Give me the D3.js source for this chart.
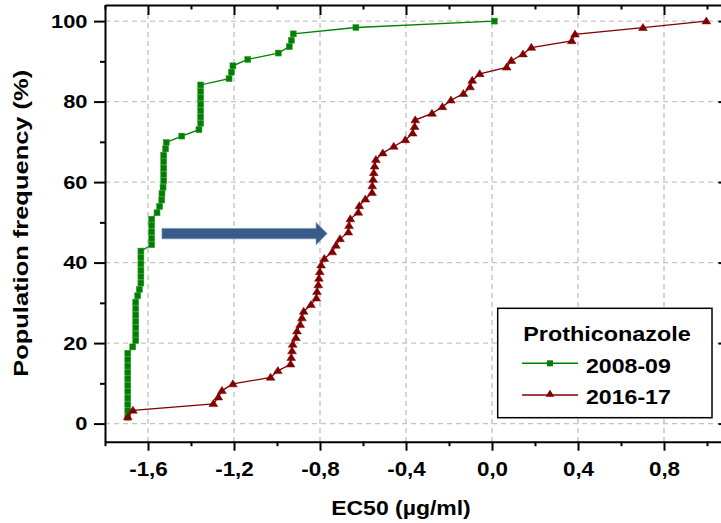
<!DOCTYPE html>
<html><head><meta charset="utf-8">
<script src="https://cdn.jsdelivr.net/npm/d3@7"></script>
<style>
body{margin:0;background:#fff}
svg{display:block}
text{font-family:"Liberation Sans",Arial,sans-serif;font-weight:bold;fill:#000}
</style>
</head><body><svg id="c" width="721" height="523"></svg>
<script>
// ---- data ----
const greenX = [-1.694,-1.694,-1.694,-1.694,-1.694,-1.694,-1.694,-1.694,-1.694,-1.694,-1.694,
  -1.671,-1.657,-1.657,-1.657,-1.657,-1.657,-1.657,-1.657,-1.648,-1.640,
  -1.633,-1.633,-1.633,-1.633,-1.633,-1.633,
  -1.583,-1.583,-1.583,-1.583,-1.583,
  -1.558,-1.546,-1.536,-1.535,-1.530,
  -1.527,-1.527,-1.527,-1.527,-1.527,
  -1.518,-1.515,-1.443,-1.363,
  -1.355,-1.355,-1.355,-1.355,-1.355,-1.355,-1.355,
  -1.223,-1.212,-1.205,-1.136,-0.994,-0.943,-0.933,-0.924,-0.633,0.011];
const greenY = [1.59,3.17,4.76,6.35,7.94,9.52,11.11,12.70,14.29,15.87,17.46,
  19.05,20.63,22.22,23.81,25.40,26.98,28.57,30.16,31.75,33.33,
  34.92,36.51,38.10,39.68,41.27,42.86,
  44.44,46.03,47.62,49.21,50.79,
  52.38,53.97,55.56,57.14,58.73,
  60.32,61.90,63.49,65.08,66.67,
  68.25,69.84,71.43,73.02,
  74.60,76.19,77.78,79.37,80.95,82.54,84.13,
  85.71,87.30,88.89,90.48,92.06,93.65,95.24,96.83,98.41,100];
const redX = [-1.694,-1.670,-1.296,-1.273,-1.256,-1.205,-1.030,-0.996,-0.937,-0.934,
  -0.930,-0.927,-0.912,-0.907,-0.892,-0.884,-0.876,-0.842,-0.817,-0.814,
  -0.808,-0.805,-0.801,-0.795,-0.780,-0.743,-0.726,-0.707,-0.668,-0.665,
  -0.659,-0.622,-0.617,-0.589,-0.558,-0.557,-0.553,-0.550,-0.546,-0.540,
  -0.508,-0.457,-0.403,-0.369,-0.360,-0.357,-0.279,-0.231,-0.191,-0.133,
  -0.102,-0.092,-0.057,0.068,0.090,0.144,0.183,0.371,0.386,0.702,0.997];
const redY = [1.64,3.28,4.92,6.56,8.20,9.84,11.48,13.11,14.75,16.39,
  18.03,19.67,21.31,22.95,24.59,26.23,27.87,29.51,31.15,32.79,
  34.43,36.07,37.70,39.34,40.98,42.62,44.26,45.90,47.54,49.18,
  50.82,52.46,54.10,55.74,57.38,59.02,60.66,62.30,63.93,65.57,
  67.21,68.85,70.49,72.13,73.77,75.41,77.05,78.69,80.33,81.97,
  83.61,85.25,86.89,88.52,90.16,91.80,93.44,95.08,96.72,98.36,100];
const xTicks = [-1.6,-1.2,-0.8,-0.4,0,0.4,0.8];
const xMinor = [-1.8,-1.4,-1.0,-0.6,-0.2,0.2,0.6,1.0];
const yTicks = [0,20,40,60,80,100];
const yMinor = [10,30,50,70,90];
const seriesNames = ["2008-09","2016-17"];
const legendTitle = "Prothiconazole";
const xTitle = "EC50 (µg/ml)";
const yTitle = "Population frequency (%)";
const arrowFrom = [-1.535, 47.2];
const arrowTo = [-0.767, 47.2];

// ---- styles ----
const GREEN = "#008000", RED = "#800000", ARROW = "#385b89";
const svg = d3.select("#c");
const x = d3.scaleLinear().domain([-1.8, 1.1]).range([105, 728.5]);
const y = d3.scaleLinear().domain([-4.5, 104]).range([441.7, 5]);
const L = 105, R = 728.5, T = 5, B = 441.7;
const fmt = d => d.toFixed(1).replace(".", ",");
const stretch = (sel, f) => sel.each(function(){
  const w = this.getComputedTextLength();
  d3.select(this).attr("textLength", w * f).attr("lengthAdjust", "spacingAndGlyphs");
});

// grid
const grid = svg.append("g").attr("stroke", "#c4c4c4").attr("stroke-width", 1.4)
  .attr("stroke-dasharray", "5,4").attr("fill", "none");
grid.selectAll(".gx").data(xTicks).join("line")
  .attr("x1", d => x(d)).attr("x2", d => x(d)).attr("y1", T).attr("y2", B);
grid.selectAll(".gy").data(yTicks).join("line")
  .attr("x1", L).attr("x2", R).attr("y1", d => y(d)).attr("y2", d => y(d));

// axes
function styleAxis(g){ g.selectAll("path").attr("stroke","#000").attr("stroke-width",2);
  g.selectAll("line").attr("stroke","#000").attr("stroke-width",2); }
const bx = svg.append("g").attr("transform", `translate(0,${B})`)
  .call(d3.axisBottom(x).tickValues(xTicks).tickSizeInner(9).tickSizeOuter(0).tickPadding(11).tickFormat(fmt));
bx.selectAll("text").attr("font-size", 20).attr("font-family", null).call(stretch, 1.12);
styleAxis(bx);
const bxm = svg.append("g").attr("transform", `translate(0,${B})`)
  .call(d3.axisBottom(x).tickValues(xMinor).tickSize(4.5).tickFormat(""));
styleAxis(bxm); bxm.select("path").remove();

const tx = svg.append("g").attr("transform", `translate(0,${T})`)
  .call(d3.axisTop(x).tickValues(xTicks).tickSizeInner(-10).tickSizeOuter(0).tickFormat(""));
styleAxis(tx);
const txm = svg.append("g").attr("transform", `translate(0,${T})`)
  .call(d3.axisTop(x).tickValues(xMinor).tickSize(-4.5).tickFormat(""));
styleAxis(txm); txm.select("path").remove();

const ly = svg.append("g").attr("transform", `translate(${L},0)`)
  .call(d3.axisLeft(y).tickValues(yTicks).tickSizeInner(11).tickSizeOuter(0).tickPadding(6.5).tickFormat(d3.format("d")));
ly.selectAll("text").attr("font-size", 19).attr("font-family", null).call(stretch, 1.15);
styleAxis(ly);
const lym = svg.append("g").attr("transform", `translate(${L},0)`)
  .call(d3.axisLeft(y).tickValues(yMinor).tickSize(5).tickFormat(""));
styleAxis(lym); lym.select("path").remove();

const ry = svg.append("g").attr("transform", `translate(${R},0)`)
  .call(d3.axisRight(y).tickValues(yTicks).tickSizeInner(-10).tickSizeOuter(0).tickFormat(""));
styleAxis(ry);
const rym = svg.append("g").attr("transform", `translate(${R},0)`)
  .call(d3.axisRight(y).tickValues(yMinor).tickSize(-5).tickFormat(""));
styleAxis(rym); rym.select("path").remove();

// axis titles
svg.append("text").attr("x", 401).attr("y", 515).attr("text-anchor", "middle")
  .attr("font-size", 20.5).text(xTitle).call(stretch, 1.12);
svg.append("text").attr("transform", "translate(27.5,223.3) rotate(-90)")
  .attr("text-anchor", "middle").attr("font-size", 19.5).text(yTitle)
  .attr("textLength", 307).attr("lengthAdjust", "spacingAndGlyphs");

// series
const green = greenX.map((v, i) => [v, greenY[i]]);
const red = redX.map((v, i) => [v, redY[i]]);
const line = d3.line().x(d => x(d[0])).y(d => y(d[1]));
const tri = "M0,-4.2L4.4,2.8L-4.4,2.8Z";

svg.append("path").datum(green).attr("d", line).attr("fill", "none")
  .attr("stroke", GREEN).attr("stroke-width", 1.3);
svg.append("g").selectAll("rect").data(green).join("rect")
  .attr("x", d => x(d[0]) - 3).attr("y", d => y(d[1]) - 3).attr("width", 6).attr("height", 6)
  .attr("fill", GREEN).attr("stroke", "#3a9a3a").attr("stroke-width", 0.5);

svg.append("path").datum(red).attr("d", line).attr("fill", "none")
  .attr("stroke", RED).attr("stroke-width", 1.3);
svg.append("g").selectAll("path").data(red).join("path")
  .attr("transform", d => `translate(${x(d[0])},${y(d[1])})`).attr("d", tri)
  .attr("fill", RED).attr("stroke", RED).attr("stroke-width", 0.5);

// arrow annotation
{
  const x0 = x(arrowFrom[0]), x1 = x(arrowTo[0]), yc = y(arrowFrom[1]);
  const hs = 5.2, hh = 11.2, hl = 11;
  const pts = [[x0, yc - hs], [x1 - hl, yc - hs], [x1 - hl, yc - hh], [x1, yc],
               [x1 - hl, yc + hh], [x1 - hl, yc + hs], [x0, yc + hs]];
  svg.append("path").attr("d", "M" + pts.map(p => p.join(",")).join("L") + "Z")
    .attr("fill", ARROW).attr("stroke", "#6f8db5").attr("stroke-width", 0.6);
}

// legend
const lg = svg.append("g");
lg.append("rect").attr("x", 497.7).attr("y", 308.3).attr("width", 214.3).attr("height", 109.4)
  .attr("fill", "#fff").attr("stroke", "#000").attr("stroke-width", 1.5);
lg.append("text").attr("x", 607).attr("y", 340.7).attr("text-anchor", "middle")
  .attr("font-size", 20.5).text(legendTitle).call(stretch, 1.14);
const colors = [GREEN, RED];
const rowsY = [363.3, 395];
seriesNames.forEach((name, i) => {
  const yy = rowsY[i];
  lg.append("line").attr("x1", 522).attr("x2", 578).attr("y1", yy).attr("y2", yy)
    .attr("stroke", colors[i]).attr("stroke-width", 1.5);
  if (i === 0) lg.append("rect").attr("x", 547).attr("y", yy - 3).attr("width", 6).attr("height", 6).attr("fill", GREEN);
  else lg.append("path").attr("transform", `translate(550,${yy - 1})`).attr("d", tri).attr("fill", RED);
  lg.append("text").attr("x", 586).attr("y", yy + 9.3).attr("font-size", 21).text(name).call(stretch, 1.1);
});
</script>
</body></html>
